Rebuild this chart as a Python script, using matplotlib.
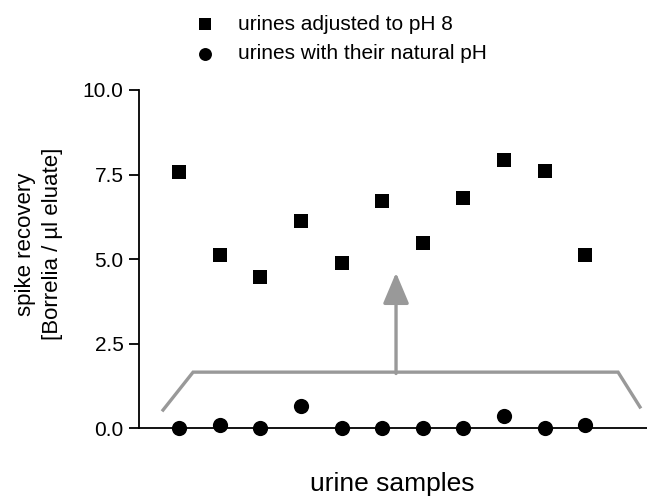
import matplotlib.pyplot as plt
import numpy as np

plt.rcParams['font.family'] = ['Liberation Sans', 'DejaVu Sans']

# data
samples = np.arange(1, 12)
ph8 = [7.57, 5.11, 4.46, 6.14, 4.88, 6.71, 5.47, 6.82, 7.92, 7.61, 5.11]
natural = [0.0, 0.09, 0.0, 0.65, 0.0, 0.0, 0.0, 0.0, 0.35, 0.0, 0.09]
yticks = [0.0, 2.5, 5.0, 7.5, 10.0]

fig = plt.figure(figsize=(6.47, 5.0), dpi=100)
ax = fig.add_axes([0.2148, 0.1434, 0.785, 0.6766])

ax.scatter(samples, ph8, marker='s', s=110, color='black', linewidths=0,
           label='urines adjusted to pH 8', clip_on=False, zorder=3)
ax.scatter(samples, natural, marker='o', s=120, color='black', linewidths=0,
           label='urines with their natural pH', clip_on=False, zorder=3)

# grey bracket and arrow
gray = '#999999'
ax.plot([0.6, 1.34, 11.81, 12.35], [0.54, 1.66, 1.66, 0.63], color=gray,
        lw=2.4, clip_on=False, solid_joinstyle='miter', zorder=2)
ax.annotate('', xy=(6.34, 4.6), xytext=(6.34, 1.62),
            arrowprops=dict(arrowstyle='-|>,head_width=0.8,head_length=1.9',
                            color=gray, lw=2.4, shrinkA=0, shrinkB=0))

ax.set_xlim(0.007, 12.52)
ax.set_ylim(0, 10)
ax.set_yticks(yticks)
ax.set_yticklabels(['%.1f' % v for v in yticks], fontsize=15)
ax.set_xticks([])
for s in ['top', 'right']:
    ax.spines[s].set_visible(False)
ax.spines['left'].set_linewidth(1.3)
ax.spines['bottom'].set_linewidth(1.3)
ax.tick_params(axis='y', direction='out', length=7, width=1.3, pad=4)

ax.set_ylabel('spike recovery\n[Borrelia / µl eluate]', fontsize=16,
              linespacing=1.35)
ax.yaxis.set_label_coords(-0.150, 0.545)
ax.set_xlabel('urine samples', fontsize=19)
ax.xaxis.set_label_coords(0.498, -0.128)

fig.legend(loc='upper left', bbox_to_anchor=(0.271, 1.008), frameon=False,
           fontsize=15, handlelength=1.0, handletextpad=1.09,
           labelspacing=0.5, markerscale=0.85)

fig.savefig('out.png', dpi=100)
